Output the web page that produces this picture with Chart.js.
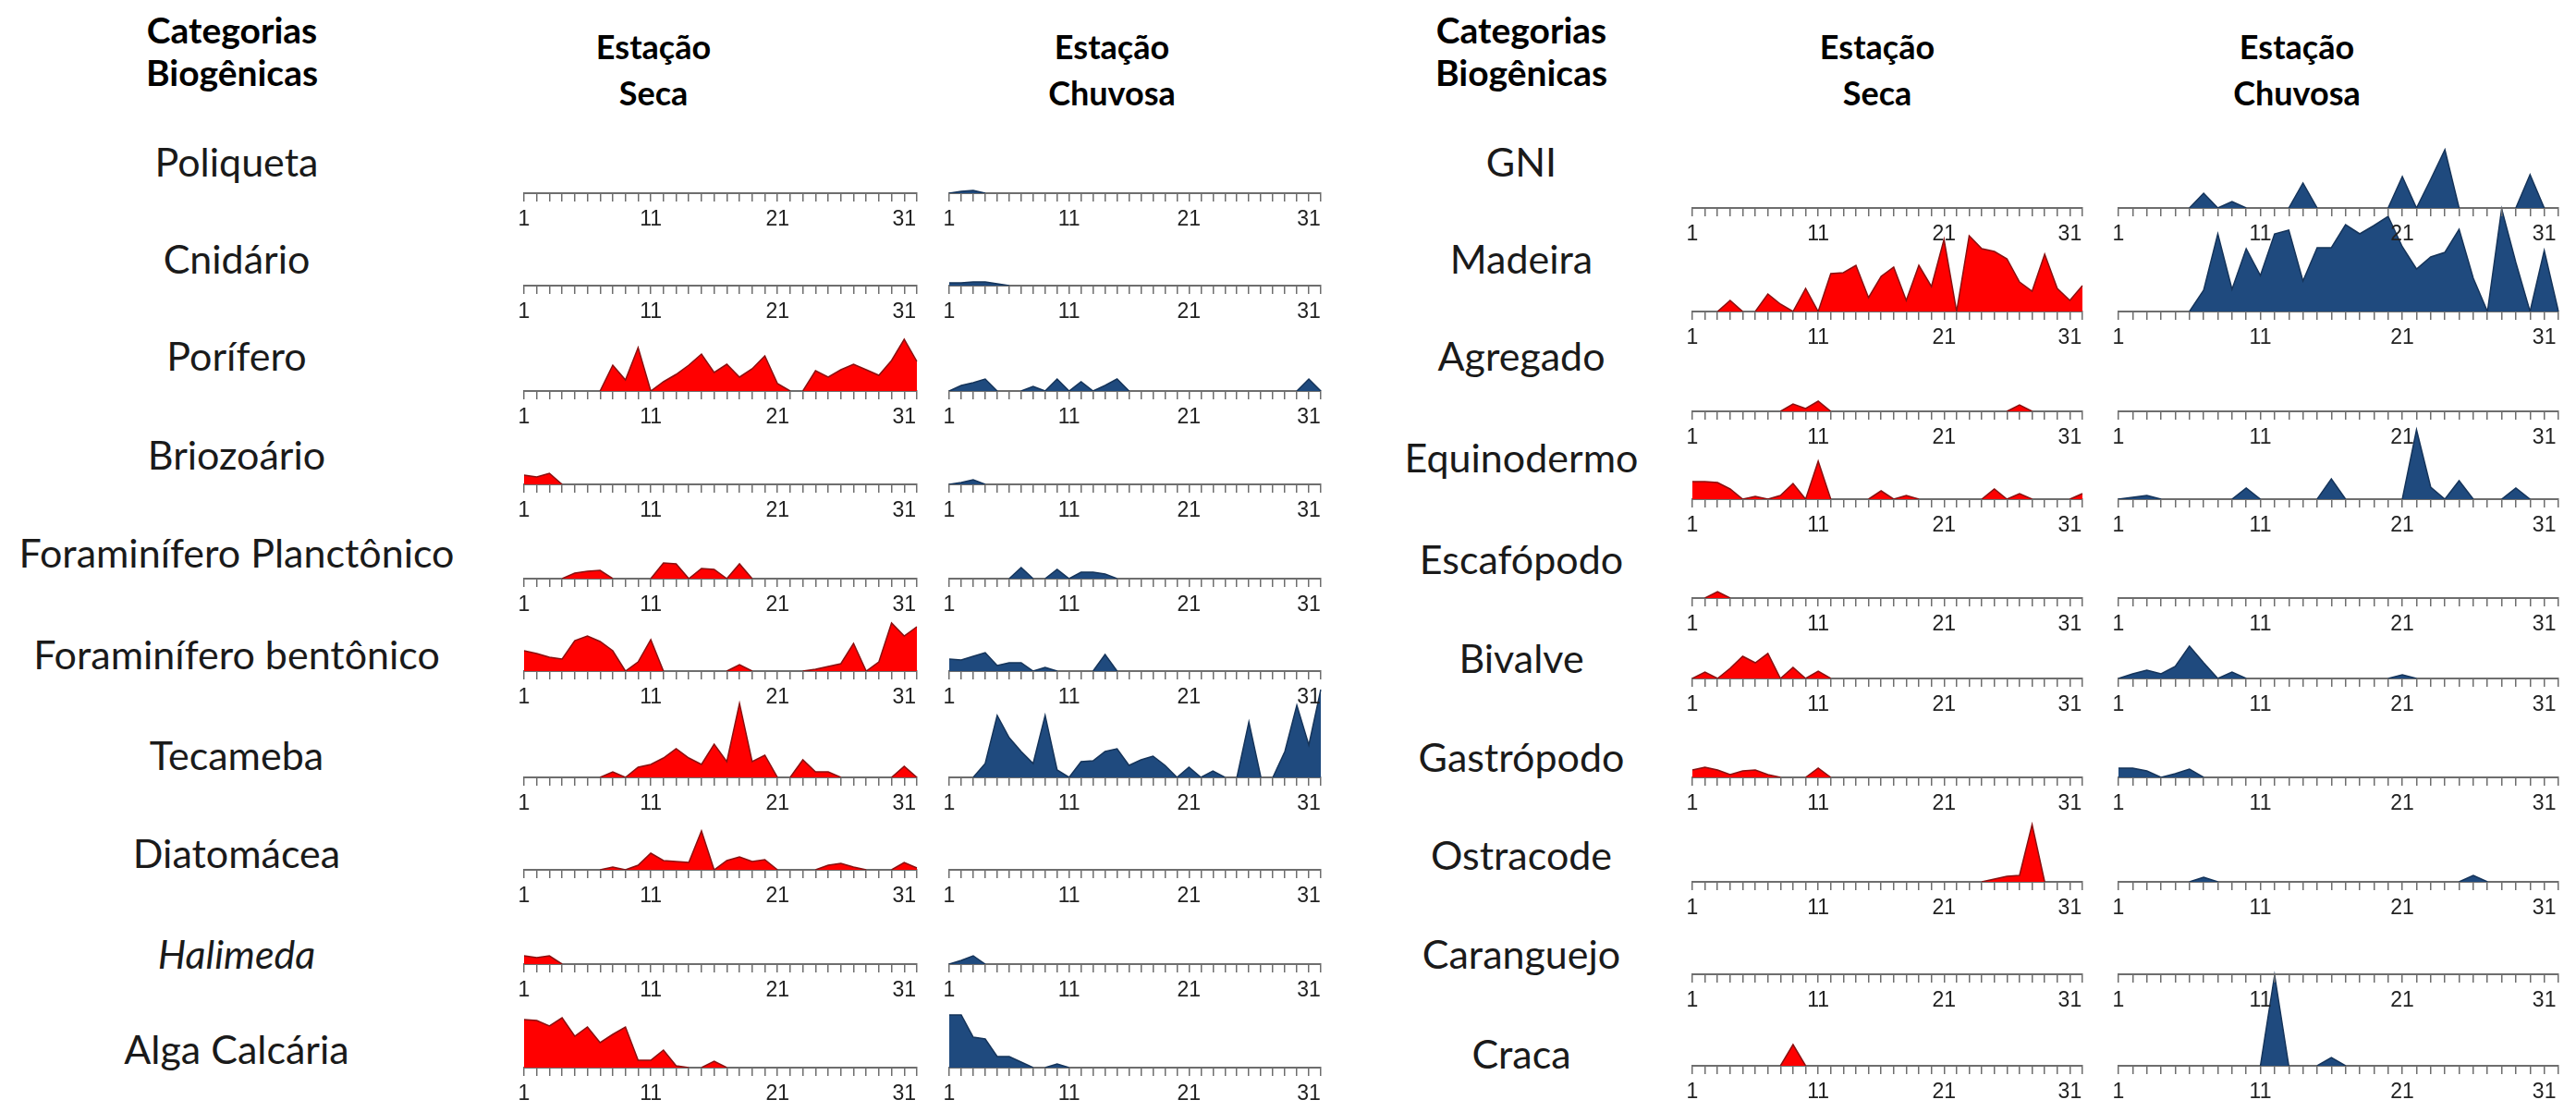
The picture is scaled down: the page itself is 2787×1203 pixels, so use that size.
<!DOCTYPE html>
<html>
<head>
<meta charset="utf-8">
<script src="https://cdn.jsdelivr.net/npm/chart.js@4.4.0/dist/chart.umd.min.js"></script>
<style>
  body { margin: 0; background: #fff; width: 2787px; height: 1203px; position: relative; overflow: hidden; font-family: Lato, "Open Sans", sans-serif; }
  .lbl { position: absolute; transform: translate(-50%, -50%); white-space: nowrap; color: #1a1a1a; font-size: 43px; }
  .hdr { position: absolute; transform: translate(-50%, -50%); white-space: nowrap; color: #000; font-size: 36px; font-weight: bold; }
  .hdr.cat { font-size: 39px; }
  .box { position: absolute; }
</style>
</head>
<body>
<script>
// days of the series (labels shown every 10th)
const days = ['1','2','3','4','5','6','7','8','9','10','11','12','13','14','15','16',
              '17','18','19','20','21','22','23','24','25','26','27','28','29','30','31','32'];

const leftNames = ['Poliqueta', 'Cnidário', 'Porífero', 'Briozoário', 'Foraminífero Planctônico',
                   'Foraminífero bentônico', 'Tecameba', 'Diatomácea', 'Halimeda', 'Alga Calcária'];
const rightNames = ['GNI', 'Madeira', 'Agregado', 'Equinodermo', 'Escafópodo',
                    'Bivalve', 'Gastrópodo', 'Ostracode', 'Caranguejo', 'Craca'];

// left block
const poliquetaSeca      = [0,0,0,0,0,0,0,0, 0,0,0,0,0,0,0,0, 0,0,0,0,0,0,0,0, 0,0,0,0,0,0,0,0];
const poliquetaChuvosa   = [0,2,3,0,0,0,0,0, 0,0,0,0,0,0,0,0, 0,0,0,0,0,0,0,0, 0,0,0,0,0,0,0,0];
const cnidarioSeca       = [0,0,0,0,0,0,0,0, 0,0,0,0,0,0,0,0, 0,0,0,0,0,0,0,0, 0,0,0,0,0,0,0,0];
const cnidarioChuvosa    = [3,3,4,4,2,0,0,0, 0,0,0,0,0,0,0,0, 0,0,0,0,0,0,0,0, 0,0,0,0,0,0,0,0];
const poriferoSeca       = [0,0,0,0,0,0,0,28, 12,47,0,10,18,28,40,20, 29,15,24,38,8,0,0,22, 15,23,29,23,17,33,56,32];
const poriferoChuvosa    = [0,6,9,13,0,0,0,5, 0,13,0,10,0,6,13,0, 0,0,0,0,0,0,0,0, 0,0,0,0,0,0,13,0];
const briozoarioSeca     = [10,8,12,0,0,0,0,0, 0,0,0,0,0,0,0,0, 0,0,0,0,0,0,0,0, 0,0,0,0,0,0,0,0];
const briozoarioChuvosa  = [0,2,5,0,0,0,0,0, 0,0,0,0,0,0,0,0, 0,0,0,0,0,0,0,0, 0,0,0,0,0,0,0,0];
const foramPlanctSeca    = [0,0,0,0,6,8,9,0, 0,0,0,17,16,0,11,10, 0,16,0,0,0,0,0,0, 0,0,0,0,0,0,0,0];
const foramPlanctChuvosa = [0,0,0,0,0,0,12,0, 0,10,0,7,7,5,0,0, 0,0,0,0,0,0,0,0, 0,0,0,0,0,0,0,0];
const foramBentSeca      = [22,19,15,13,33,38,32,22, 0,10,34,0,0,0,0,0, 0,7,0,0,0,0,0,2, 5,8,30,0,10,52,38,48];
const foramBentChuvosa   = [13,12,16,20,6,9,9,0, 4,0,0,0,0,18,0,0, 0,0,0,0,0,0,0,0, 0,0,0,0,0,0,0,0];
const tecamebaSeca       = [0,0,0,0,0,0,0,6, 0,11,14,21,31,21,14,36, 17,80,17,24,0,0,19,6, 6,0,0,0,0,0,12,0];
const tecamebaChuvosa    = [0,0,0,15,67,43,28,15, 67,8,0,17,18,28,31,13, 19,23,13,0,11,0,7,0, 0,60,0,0,28,78,35,95];
const diatomaceaSeca     = [0,0,0,0,0,0,0,3, 0,5,18,10,9,8,42,0, 10,14,9,11,0,0,0,0, 5,7,3,0,0,0,8,2];
const diatomaceaChuvosa  = [0,0,0,0,0,0,0,0, 0,0,0,0,0,0,0,0, 0,0,0,0,0,0,0,0, 0,0,0,0,0,0,0,0];
const halimedaSeca       = [9,7,9,0,0,0,0,0, 0,0,0,0,0,0,0,0, 0,0,0,0,0,0,0,0, 0,0,0,0,0,0,0,0];
const halimedaChuvosa    = [0,4,9,0,0,0,0,0, 0,0,0,0,0,0,0,0, 0,0,0,0,0,0,0,0, 0,0,0,0,0,0,0,0];
const algaSeca           = [52,51,45,54,34,44,27,36, 44,8,8,19,2,0,0,7, 0,0,0,0,0,0,0,0, 0,0,0,0,0,0,0,0];
const algaChuvosa        = [57,57,33,31,12,12,6,0, 0,4,0,0,0,0,0,0, 0,0,0,0,0,0,0,0, 0,0,0,0,0,0,0,0];

// right block
const gniSeca            = [0,0,0,0,0,0,0,0, 0,0,0,0,0,0,0,0, 0,0,0,0,0,0,0,0, 0,0,0,0,0,0,0,0];
const gniChuvosa         = [0,0,0,0,0,0,16,0, 7,0,0,0,0,27,0,0, 0,0,0,0,34,0,31,63, 0,0,0,0,0,36,0,0];
const madeiraSeca        = [0,0,0,12,0,0,19,8, 0,25,0,41,42,50,15,38, 48,12,50,27,78,0,82,68, 65,57,32,22,62,25,12,28];
const madeiraChuvosa     = [0,0,0,0,0,0,23,84, 24,68,39,84,88,33,69,69, 94,84,93,103,70,46,59,64, 89,36,0,111,53,0,66,0];
const agregadoSeca       = [0,0,0,0,0,0,0,0, 8,3,11,0,0,0,0,0, 0,0,0,0,0,0,0,0, 0,0,7,0,0,0,0,0];
const agregadoChuvosa    = [0,0,0,0,0,0,0,0, 0,0,0,0,0,0,0,0, 0,0,0,0,0,0,0,0, 0,0,0,0,0,0,0,0];
const equinodermoSeca    = [19,19,18,11,0,3,0,4, 17,0,41,0,0,0,0,9, 0,4,0,0,0,0,0,0, 11,0,6,0,0,0,0,6];
const equinodermoChuvosa = [0,2,4,0,0,0,0,0, 0,12,0,0,0,0,0,22, 0,0,0,0,0,75,13,0, 20,0,0,0,12,0,0,0];
const escafopodoSeca     = [0,0,7,0,0,0,0,0, 0,0,0,0,0,0,0,0, 0,0,0,0,0,0,0,0, 0,0,0,0,0,0,0,0];
const escafopodoChuvosa  = [0,0,0,0,0,0,0,0, 0,0,0,0,0,0,0,0, 0,0,0,0,0,0,0,0, 0,0,0,0,0,0,0,0];
const bivalveSeca        = [0,7,0,11,24,17,27,0, 12,0,8,0,0,0,0,0, 0,0,0,0,0,0,0,0, 0,0,0,0,0,0,0,0];
const bivalveChuvosa     = [0,5,9,5,13,35,17,0, 7,0,0,0,0,0,0,0, 0,0,0,0,4,0,0,0, 0,0,0,0,0,0,0,0];
const gastropodoSeca     = [8,11,8,3,7,8,3,0, 0,0,10,0,0,0,0,0, 0,0,0,0,0,0,0,0, 0,0,0,0,0,0,0,0];
const gastropodoChuvosa  = [10,10,7,0,4,9,0,0, 0,0,0,0,0,0,0,0, 0,0,0,0,0,0,0,0, 0,0,0,0,0,0,0,0];
const ostracodeSeca      = [0,0,0,0,0,0,0,0, 0,0,0,0,0,0,0,0, 0,0,0,0,0,0,0,0, 3,6,7,62,0,0,0,0];
const ostracodeChuvosa   = [0,0,0,0,0,0,5,0, 0,0,0,0,0,0,0,0, 0,0,0,0,0,0,0,0, 0,7,0,0,0,0,0,0];
const caranguejoSeca     = [0,0,0,0,0,0,0,0, 0,0,0,0,0,0,0,0, 0,0,0,0,0,0,0,0, 0,0,0,0,0,0,0,0];
const caranguejoChuvosa  = [0,0,0,0,0,0,0,0, 0,0,0,0,0,0,0,0, 0,0,0,0,0,0,0,0, 0,0,0,0,0,0,0,0];
const cracaSeca          = [0,0,0,0,0,0,0,0, 23,0,0,0,0,0,0,0, 0,0,0,0,0,0,0,0, 0,0,0,0,0,0,0,0];
const cracaChuvosa       = [0,0,0,0,0,0,0,0, 0,0,0,98,0,0,0,9, 0,0,0,0,0,0,0,0, 0,0,0,0,0,0,0,0];

const leftSeca = [poliquetaSeca, cnidarioSeca, poriferoSeca, briozoarioSeca, foramPlanctSeca,
                  foramBentSeca, tecamebaSeca, diatomaceaSeca, halimedaSeca, algaSeca];
const leftChuvosa = [poliquetaChuvosa, cnidarioChuvosa, poriferoChuvosa, briozoarioChuvosa, foramPlanctChuvosa,
                     foramBentChuvosa, tecamebaChuvosa, diatomaceaChuvosa, halimedaChuvosa, algaChuvosa];
const rightSeca = [gniSeca, madeiraSeca, agregadoSeca, equinodermoSeca, escafopodoSeca,
                   bivalveSeca, gastropodoSeca, ostracodeSeca, caranguejoSeca, cracaSeca];
const rightChuvosa = [gniChuvosa, madeiraChuvosa, agregadoChuvosa, equinodermoChuvosa, escafopodoChuvosa,
                      bivalveChuvosa, gastropodoChuvosa, ostracodeChuvosa, caranguejoChuvosa, cracaChuvosa];

// page layout
const PLOT_H = 118;   // plot height, 1 unit = 1px
const PAD_TOP = 4;
const PAD_X = 24;
const AXIS_H = 48;
const RED = '#ff0000', RED_LINE = '#8a1010';
const BLUE = '#1f4a7e', BLUE_LINE = '#15345a';

const leftAxisY  = [209, 309, 423, 524, 626, 726, 841, 941, 1043, 1155];
const rightAxisY = [225, 337, 445, 540, 647, 734, 841, 954, 1054, 1153];
const leftLabelY  = [174, 279, 384, 491, 597, 707, 816, 922, 1031, 1134];
const rightLabelY = [174, 279, 384, 494, 604, 711, 818, 924, 1031, 1139];

function addText(cls, text, x, y, italic) {
  const d = document.createElement('div');
  d.className = cls;
  d.textContent = text;
  d.style.left = x + 'px';
  d.style.top = y + 'px';
  if (italic) d.style.fontStyle = 'italic';
  document.body.appendChild(d);
}

function drawPanel(x0, x1, axisY, values, fill, line, z) {
  const w = x1 - x0 + 2 * PAD_X;
  const h = PAD_TOP + PLOT_H + AXIS_H;
  const box = document.createElement('div');
  box.className = 'box';
  box.style.left = (x0 - PAD_X) + 'px';
  box.style.top = (axisY - PLOT_H - PAD_TOP) + 'px';
  box.style.zIndex = z;
  const canvas = document.createElement('canvas');
  canvas.width = w;
  canvas.height = h;
  canvas.style.width = w + 'px';
  canvas.style.height = h + 'px';
  box.appendChild(canvas);
  document.body.appendChild(box);

  new Chart(canvas, {
    type: 'line',
    data: {
      labels: days,
      datasets: [{
        data: values,
        fill: 'origin',
        backgroundColor: fill,
        borderColor: line,
        borderWidth: 1.5,
        pointRadius: 0,
        tension: 0,
        segment: {
          // no outline along the zero line, the axis shows there
          borderColor: ctx => (ctx.p0.parsed.y === 0 && ctx.p1.parsed.y === 0 ? 'rgba(0,0,0,0)' : undefined)
        }
      }]
    },
    options: {
      responsive: false,
      animation: false,
      layout: { padding: { top: PAD_TOP, left: PAD_X, right: PAD_X, bottom: 0 } },
      plugins: { legend: { display: false }, tooltip: { enabled: false } },
      scales: {
        x: {
          offset: false,
          grid: { display: true, drawOnChartArea: false, drawTicks: true, tickLength: 9, color: '#6e6e6e', lineWidth: 1.5 },
          border: { display: true, color: '#6e6e6e', width: 2 },
          ticks: {
            autoSkip: false,
            maxRotation: 0,
            padding: 6,
            color: '#222',
            font: { family: 'Liberation Sans', size: 23 },
            callback: (v, i) => (i % 10 === 0 ? days[i] : '')
          },
          afterFit(scale) { scale.height = AXIS_H; }
        },
        y: { display: false, min: 0, max: PLOT_H }
      }
    }
  });
}

// headers
addText('hdr cat', 'Categorias', 251, 32);
addText('hdr cat', 'Biogênicas', 251, 78);
addText('hdr', 'Estação', 707, 50);
addText('hdr', 'Seca', 707, 100);
addText('hdr', 'Estação', 1203, 50);
addText('hdr', 'Chuvosa', 1203, 100);
addText('hdr cat', 'Categorias', 1646, 32);
addText('hdr cat', 'Biogênicas', 1646, 78);
addText('hdr', 'Estação', 2031, 50);
addText('hdr', 'Seca', 2031, 100);
addText('hdr', 'Estação', 2485, 50);
addText('hdr', 'Chuvosa', 2485, 100);

for (let i = 0; i < 10; i++) {
  addText('lbl', leftNames[i], 256, leftLabelY[i], leftNames[i] === 'Halimeda');
  addText('lbl', rightNames[i], 1646, rightLabelY[i], false);
  // upper rows stay above the peaks of the rows below them
  const z = 100 - i;
  drawPanel(567, 992, leftAxisY[i], leftSeca[i], RED, RED_LINE, z);
  drawPanel(1027, 1429, leftAxisY[i], leftChuvosa[i], BLUE, BLUE_LINE, z);
  drawPanel(1831, 2253, rightAxisY[i], rightSeca[i], RED, RED_LINE, z);
  drawPanel(2292, 2768, rightAxisY[i], rightChuvosa[i], BLUE, BLUE_LINE, z);
}
</script>
</body>
</html>
